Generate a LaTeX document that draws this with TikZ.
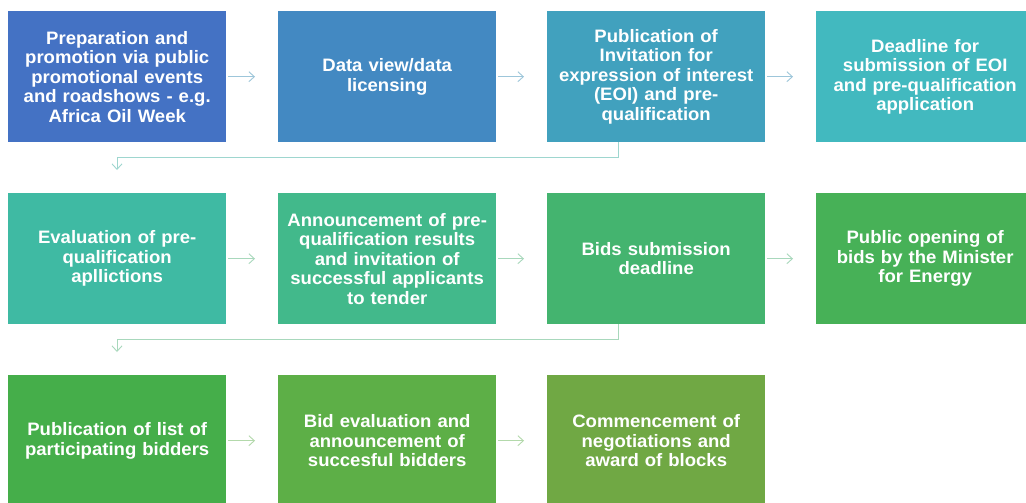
\documentclass[tikz,border=0pt]{standalone}
\usepackage{fontspec}
\setmainfont{Liberation Sans}[FakeStretch=1.03]
\usetikzlibrary{arrows.meta}
\definecolor{cA}{HTML}{4472C4}
\definecolor{cB}{HTML}{4389C2}
\definecolor{cC}{HTML}{41A1BE}
\definecolor{cD}{HTML}{42B9BF}
\definecolor{cE}{HTML}{3FBAA3}
\definecolor{cF}{HTML}{42B98B}
\definecolor{cG}{HTML}{44B46F}
\definecolor{cH}{HTML}{47B157}
\definecolor{cI}{HTML}{45AE4A}
\definecolor{cJ}{HTML}{5DAF47}
\definecolor{cK}{HTML}{70A844}
\definecolor{lnA}{HTML}{9DC6DA}
\definecolor{lnB}{HTML}{9ED6CF}
\definecolor{lnC}{HTML}{A8D8BC}
\definecolor{lnD}{HTML}{B3D9AB}
\tikzset{
  stepbox/.style={rectangle, anchor=north west, minimum width=218pt, minimum height=131pt,
    inner sep=0pt, text width=216pt, align=center, text=white,
    font=\fontsize{18}{19.5}\selectfont\bfseries},
  conn/.style={line width=0.9pt, -{Straight Barb[length=5.5pt,width=10pt,line width=0.9pt]}},
  harrow/.style={conn, shorten <=2pt, shorten >=23pt},
}
\begin{document}
\begin{tikzpicture}[x=1pt,y=-1pt]
\useasboundingbox (0,0) rectangle (1026,503);
\clip (0,0) rectangle (1026,503);
\fill[white] (0,0) rectangle (1026,503);
% row 1
\node[stepbox, fill=cA] (n1) at (8,11) {Preparation and\\promotion via public\\promotional events\\and roadshows - e.g.\\Africa Oil Week};
\node[stepbox, fill=cB] (n2) at (278,11) {Data view/data\\licensing};
\node[stepbox, fill=cC] (n3) at (547,11) {Publication of\\Invitation for\\expression of interest\\(EOI) and pre-\\qualification};
\node[stepbox, fill=cD] (n4) at (816,11) {Deadline for\\submission of EOI\\and pre-qualification\\application};
% row 2
\node[stepbox, fill=cE] (n5) at (8,193) {Evaluation of pre-\\qualification\\apllictions};
\node[stepbox, fill=cF] (n6) at (278,193) {Announcement of pre-\\qualification results\\and invitation of\\successful applicants\\to tender};
\node[stepbox, fill=cG] (n7) at (547,193) {Bids submission\\deadline};
\node[stepbox, fill=cH] (n8) at (816,193) {Public opening of\\bids by the Minister\\for Energy};
% row 3
\node[stepbox, fill=cI] (n9) at (8,375) {Publication of list of\\participating bidders};
\node[stepbox, fill=cJ] (n10) at (278,375) {Bid evaluation and\\announcement of\\succesful bidders};
\node[stepbox, fill=cK] (n11) at (547,375) {Commencement of\\negotiations and\\award of blocks};
% horizontal arrows
\draw[harrow, lnA] (n1) -- (n2);
\draw[harrow, lnA] (n2) -- (n3);
\draw[harrow, lnA] (n3) -- (n4);
\draw[harrow, lnC] (n5) -- (n6);
\draw[harrow, lnC] (n6) -- (n7);
\draw[harrow, lnC] (n7) -- (n8);
\draw[harrow, lnD] (n9) -- (n10);
\draw[harrow, lnD] (n10) -- (n11);
% row-change connectors
\coordinate (t1) at (618,157);
\coordinate (e1) at (117,157);
\coordinate (t2) at (618,339);
\coordinate (e2) at (117,339);
\draw[conn, lnB, shorten >=23pt] (n3.south -| t1) -- (t1) -- (e1) -- (n5.north -| e1);
\draw[conn, lnC, shorten >=23pt] (n7.south -| t2) -- (t2) -- (e2) -- (n9.north -| e2);
\end{tikzpicture}
\end{document}
